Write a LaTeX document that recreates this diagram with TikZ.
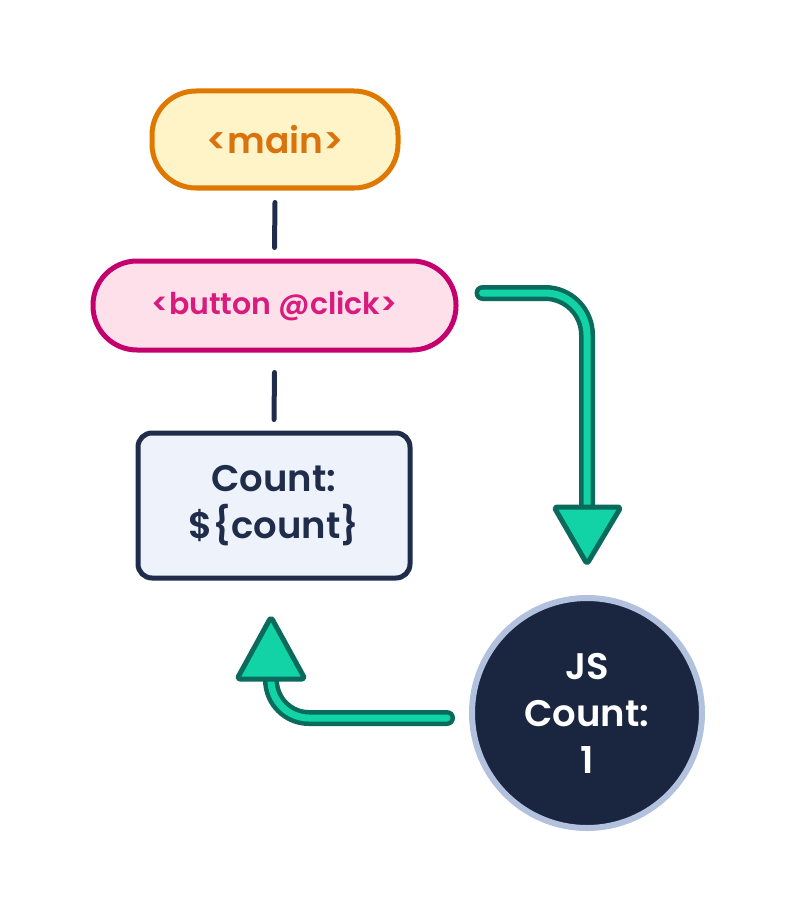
\documentclass[tikz,border=0pt]{standalone}
\usepackage{fontspec}
\setmainfont{Poppins}[BoldFont={Poppins SemiBold}]
\usetikzlibrary{calc}
\definecolor{orstroke}{HTML}{DF7800}
\definecolor{orfill}{HTML}{FEF4C8}
\definecolor{ortext}{HTML}{D9730D}
\definecolor{mgstroke}{HTML}{C4006E}
\definecolor{mgfill}{HTML}{FDE0EA}
\definecolor{mgtext}{HTML}{D81B7D}
\definecolor{navy}{HTML}{1F2D4B}
\definecolor{boxfill}{HTML}{EEF3FB}
\definecolor{circfill}{HTML}{1A2540}
\definecolor{circstroke}{HTML}{B2C1DD}
\definecolor{teal}{HTML}{12D3A5}
\definecolor{darkteal}{HTML}{0A6A5C}
\tikzset{
  pill/.style={rounded corners=44pt, line width=5pt, inner sep=0pt},
  link/.style={navy, line width=5pt, line cap=round},
  shaft/.style={draw=darkteal, double=teal, double distance=7pt, line width=4.5pt, line cap=round},
  head/.style={fill=teal, draw=darkteal, line width=5pt, line join=round, rounded corners=3pt},
}
\begin{document}
\begin{tikzpicture}[x=1pt,y=-1pt]
\useasboundingbox (0,0) rectangle (796,920);
\node[pill, draw=orstroke, fill=orfill, minimum width=246pt, minimum height=97pt,
  text=ortext, font=\bfseries\fontsize{36}{42}\selectfont] (main) at (275,139.5) {<main>};
\node[pill, draw=mgstroke, fill=mgfill, minimum width=363pt, minimum height=89pt,
  text=mgtext, font=\bfseries\fontsize{30}{36}\selectfont] (btn) at (274.5,305.5) {<button @click>};
\node[draw=navy, fill=boxfill, line width=5pt, rounded corners=14pt,
  minimum width=272pt, minimum height=145pt, inner sep=0pt, align=center,
  text=navy, font=\bfseries\fontsize{37}{47}\selectfont] (cnt) at (274,505.5) {Count:\\\$\{count\}};
\node[circle, draw=circstroke, fill=circfill, line width=6pt, minimum size=230pt,
  inner sep=0pt, align=center, text=white,
  font=\bfseries\fontsize{37}{47}\selectfont] (js) at (587,713) {JS\\Count:\\1};
% tree links
\draw[link] ($(main.south)+(0,12)$) -- ($(btn.north)+(0,-11)$);
\draw[link] ($(btn.south)+(0,20)$) -- ($(cnt.north)+(0,-11)$);
% arrow from button to JS
\coordinate (a1s) at ($(btn.east)+(24,-12.5)$);
\coordinate (a1e) at (587,507);
\draw[shaft, rounded corners=42pt] (a1s) -| (a1e);
\draw[head] (554,507) -- (621,507) -- (587,564) -- cycle;
% arrow from JS to count
\coordinate (a2s) at ($(js.west)+(-22,5)$);
\coordinate (a2e) at (271,679);
\draw[shaft, rounded corners=38pt] (a2s) -| (a2e);
\draw[head] (237,679) -- (305,679) -- (271,617) -- cycle;
\end{tikzpicture}
\end{document}
